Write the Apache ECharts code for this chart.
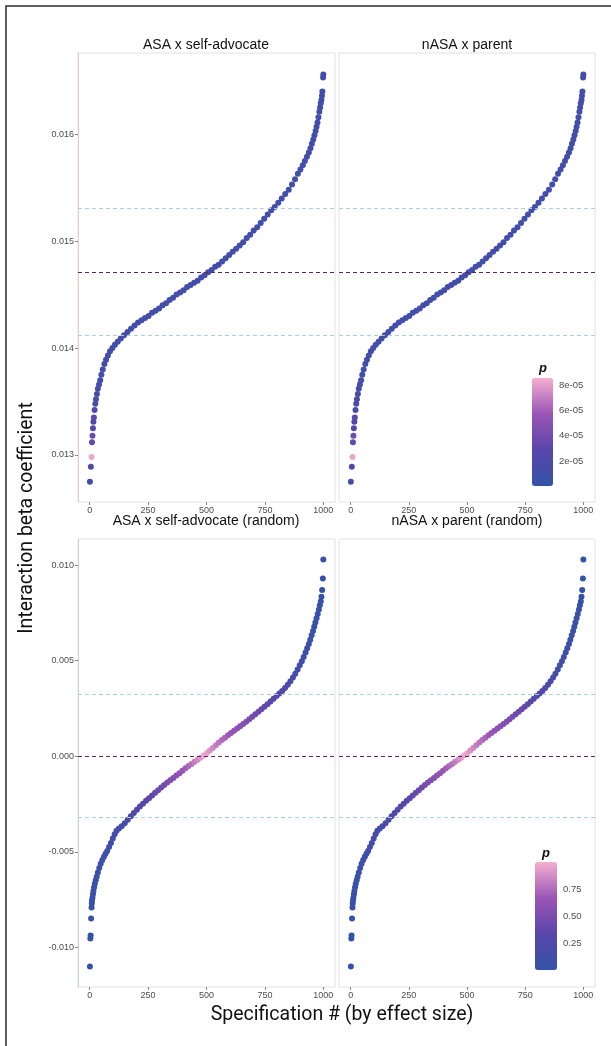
<!DOCTYPE html>
<html>
<head>
<meta charset="utf-8">
<script src="https://cdn.jsdelivr.net/npm/echarts@6/dist/echarts.min.js"></script>
<style>
  html, body { margin: 0; padding: 0; background: #fff; }
  #main { width: 611px; height: 1046px; }
</style>
</head>
<body>
<div id="main"></div>
<script>
// top row: specification rank, interaction beta, p
var topRank = [1, 5, 8, 10, 12, 14, 16, 18, 21, 24, 27, 31, 35, 40, 45, 50, 56, 63, 70, 78, 87, 97, 108, 120, 133, 147, 162, 177, 192, 207, 222, 237, 252, 267, 282, 297, 312, 327, 342, 357, 372, 387, 402, 417, 432, 447, 462, 477, 492, 507, 522, 537, 552, 567, 582, 597, 612, 627, 642, 657, 672, 687, 702, 717, 732, 747, 762, 777, 792, 807, 822, 837, 852, 866, 879, 891, 902, 912, 921, 930, 938, 945, 951, 957, 962, 967, 971, 975, 979, 983, 986, 989, 992, 994, 996, 999, 1000];
var topBeta = [0.01275, 0.01289, 0.01298, 0.01312, 0.01318, 0.01325, 0.01331, 0.01335, 0.01342, 0.01348, 0.01352, 0.01357, 0.01362, 0.01366, 0.01370, 0.01375, 0.01380, 0.01385, 0.01389, 0.01393, 0.01397, 0.01400, 0.01403, 0.01406, 0.01409, 0.01412, 0.01415, 0.01418, 0.01421, 0.01424, 0.01426, 0.01428, 0.01430, 0.01433, 0.01435, 0.01437, 0.01440, 0.01442, 0.01445, 0.01447, 0.01450, 0.01452, 0.01454, 0.01457, 0.01459, 0.01461, 0.01463, 0.01466, 0.01468, 0.01471, 0.01473, 0.01476, 0.01478, 0.01481, 0.01484, 0.01487, 0.01490, 0.01493, 0.01496, 0.01499, 0.01503, 0.01506, 0.01510, 0.01513, 0.01517, 0.01521, 0.01525, 0.01529, 0.01532, 0.01536, 0.01540, 0.01544, 0.01548, 0.01553, 0.01558, 0.01563, 0.01567, 0.01571, 0.01575, 0.01579, 0.01583, 0.01587, 0.01591, 0.01595, 0.01599, 0.01603, 0.01607, 0.01611, 0.01616, 0.01621, 0.01625, 0.01629, 0.01632, 0.01636, 0.01640, 0.01653, 0.01656];
var topP = [1.4e-5, 2.0e-5, 8.3e-5, 3.2e-5, 3.8e-5, 2.6e-5, 2.2e-5, 3.0e-5, 2.0e-5, 1.8e-5, 1.6e-5, 1.5e-5, 1.4e-5, 1.3e-5, 1.3e-5, 1.2e-5, 1.2e-5, 1.2e-5, 1.1e-5, 1.1e-5, 1.1e-5, 1.1e-5, 1.1e-5, 1.1e-5, 1.1e-5, 1.1e-5, 1.1e-5, 1.1e-5, 1.1e-5, 1.1e-5, 1.1e-5, 1.1e-5, 1.1e-5, 1.1e-5, 1.1e-5, 1.1e-5, 1.1e-5, 1.1e-5, 1.1e-5, 1.1e-5, 1.1e-5, 1.1e-5, 1.1e-5, 1.1e-5, 1.1e-5, 1.1e-5, 1.1e-5, 1.1e-5, 1.1e-5, 1.1e-5, 1.1e-5, 1.1e-5, 1.1e-5, 1.1e-5, 1.1e-5, 1.1e-5, 1.1e-5, 1.1e-5, 1.1e-5, 1.1e-5, 1.1e-5, 1.1e-5, 1.1e-5, 1.1e-5, 1.1e-5, 1.1e-5, 1.1e-5, 1.1e-5, 1.1e-5, 1.1e-5, 1.1e-5, 1.1e-5, 1.1e-5, 1.1e-5, 1.1e-5, 1.1e-5, 1.1e-5, 1.1e-5, 1.1e-5, 1.1e-5, 1.1e-5, 1.1e-5, 1.1e-5, 1.1e-5, 1.1e-5, 1.1e-5, 1.1e-5, 1.1e-5, 1.1e-5, 1.1e-5, 1.1e-5, 1.1e-5, 1.1e-5, 1.1e-5, 1.1e-5, 1.1e-5, 1.1e-5];
var topMid = 0.01471;
var topBand = [0.01412, 0.01531];
var topTicks = [0.013, 0.014, 0.015, 0.016];
var topPTicks = [2e-5, 4e-5, 6e-5, 8e-5];

// bottom row (random permutations)
var botRank = [1, 3, 4, 6, 8, 9, 10, 12, 14, 16, 19, 22, 26, 30, 35, 41, 47, 54, 61, 68, 75, 83, 91, 99, 107, 115, 125, 137, 150, 163, 176, 189, 202, 215, 228, 241, 254, 267, 280, 293, 306, 319, 332, 345, 358, 371, 384, 397, 410, 423, 436, 449, 462, 475, 488, 501, 514, 527, 540, 553, 566, 579, 592, 605, 618, 631, 644, 657, 670, 683, 696, 709, 722, 735, 748, 761, 774, 787, 800, 812, 824, 836, 848, 859, 870, 880, 890, 899, 908, 916, 924, 931, 938, 944, 950, 956, 961, 966, 971, 976, 981, 985, 989, 992, 995, 998, 1000];
var botBeta = [-0.01100, -0.00953, -0.00937, -0.00848, -0.00791, -0.00770, -0.00754, -0.00740, -0.00722, -0.00705, -0.00685, -0.00667, -0.00648, -0.00630, -0.00608, -0.00585, -0.00562, -0.00543, -0.00525, -0.00510, -0.00495, -0.00475, -0.00453, -0.00430, -0.00408, -0.00390, -0.00378, -0.00366, -0.00350, -0.00332, -0.00313, -0.00296, -0.00279, -0.00263, -0.00248, -0.00233, -0.00219, -0.00205, -0.00191, -0.00177, -0.00163, -0.00150, -0.00137, -0.00125, -0.00113, -0.00100, -0.00088, -0.00076, -0.00063, -0.00051, -0.00040, -0.00029, -0.00018, -0.00007, 0.00004, 0.00016, 0.00030, 0.00044, 0.00058, 0.00072, 0.00085, 0.00097, 0.00110, 0.00122, 0.00134, 0.00145, 0.00157, 0.00169, 0.00181, 0.00194, 0.00207, 0.00220, 0.00233, 0.00246, 0.00259, 0.00273, 0.00287, 0.00301, 0.00315, 0.00328, 0.00342, 0.00358, 0.00375, 0.00393, 0.00412, 0.00432, 0.00454, 0.00476, 0.00498, 0.00520, 0.00543, 0.00565, 0.00588, 0.00610, 0.00633, 0.00656, 0.00678, 0.00700, 0.00722, 0.00745, 0.00768, 0.00790, 0.00810, 0.00835, 0.00870, 0.00930, 0.01030];
var botP = [0.01, 0.02, 0.02, 0.03, 0.04, 0.04, 0.04, 0.05, 0.05, 0.05, 0.06, 0.06, 0.06, 0.07, 0.07, 0.08, 0.08, 0.09, 0.10, 0.10, 0.11, 0.12, 0.12, 0.13, 0.14, 0.15, 0.16, 0.17, 0.19, 0.21, 0.23, 0.25, 0.27, 0.29, 0.31, 0.33, 0.35, 0.38, 0.40, 0.43, 0.45, 0.48, 0.50, 0.53, 0.56, 0.59, 0.62, 0.66, 0.69, 0.73, 0.77, 0.81, 0.86, 0.92, 0.97, 0.95, 0.90, 0.86, 0.82, 0.79, 0.75, 0.72, 0.69, 0.66, 0.63, 0.60, 0.58, 0.55, 0.53, 0.50, 0.48, 0.45, 0.43, 0.41, 0.38, 0.36, 0.34, 0.32, 0.30, 0.28, 0.26, 0.24, 0.22, 0.20, 0.18, 0.16, 0.14, 0.13, 0.11, 0.10, 0.09, 0.08, 0.07, 0.06, 0.05, 0.05, 0.04, 0.04, 0.03, 0.03, 0.03, 0.02, 0.02, 0.02, 0.01, 0.01, 0.01];
var botMid = 0;
var botBand = [-0.0032, 0.00325];
var botTicks = [-0.010, -0.005, 0.000, 0.005, 0.010];
var botPTicks = [0.25, 0.50, 0.75];

var xTicks = [0, 250, 500, 750, 1000];
var titles = ['ASA x self-advocate', 'nASA x parent', 'ASA x self-advocate (random)', 'nASA x parent (random)'];

var pColors = ['#3353a8', '#5a46aa', '#9a55b6', '#f5afd0'];
var tickFont = { color: '#4d4d4d', fontSize: 9, fontFamily: 'Liberation Sans' };

function pts(r, b, p) {
    return r.map(function (v, i) { return [v, b[i], p[i]]; });
}
var topData = pts(topRank, topBeta, topP);
var botData = pts(botRank, botBeta, botP);

var myChart = echarts.init(document.getElementById('main'));

var panels = [
    { left: 78, top: 53, width: 257, height: 449 },
    { left: 339, top: 53, width: 256, height: 449 },
    { left: 78, top: 539, width: 257, height: 448 },
    { left: 339, top: 539, width: 256, height: 448 }
];

var grids = panels.map(function (p) {
    return { left: p.left, top: p.top, width: p.width, height: p.height, show: true, borderColor: '#e2e2e2', borderWidth: 1, backgroundColor: '#fff' };
});
// colour bar axes
grids.push({ left: 532, top: 378, width: 21, height: 108 });
grids.push({ left: 535, top: 862, width: 22, height: 108 });

var xAxes = panels.map(function (p, i) {
    return {
        type: 'value', gridIndex: i, min: -50, max: 1050,
        splitLine: { show: false },
        axisLine: { show: false, onZero: false },
        axisTick: { show: true, length: 3, lineStyle: { color: '#888' }, customValues: xTicks },
        axisLabel: Object.assign({ margin: 4, customValues: xTicks, formatter: function (v) { return String(v); } }, tickFont)
    };
});
xAxes.push({ type: 'value', gridIndex: 4, min: 0, max: 1, show: false });
xAxes.push({ type: 'value', gridIndex: 5, min: 0, max: 1, show: false });

function yAxis(i, min, max, ticks, showLab, lineColor) {
    return {
        type: 'value', gridIndex: i, min: min, max: max,
        splitLine: { show: false },
        axisLine: { show: !!lineColor, onZero: false, lineStyle: { color: lineColor || '#ddd', width: 1 } },
        axisTick: { show: showLab, length: 3, lineStyle: { color: '#888' }, customValues: ticks },
        axisLabel: Object.assign({ show: showLab, margin: 4, customValues: ticks, formatter: function (v) { return v.toFixed(3); } }, tickFont)
    };
}
var yAxes = [
    yAxis(0, 0.01256, 0.01676, topTicks, true, '#f1c9c2'),
    yAxis(1, 0.01256, 0.01676, topTicks, false, null),
    yAxis(2, -0.01207, 0.01137, botTicks, true, '#bcd8ea'),
    yAxis(3, -0.01207, 0.01137, botTicks, false, null)
];
yAxes.push({
    type: 'value', gridIndex: 4, min: 0, max: 8.6e-5, position: 'right',
    splitLine: { show: false }, axisLine: { show: false },
    axisTick: { show: true, inside: true, length: 4, lineStyle: { color: 'rgba(255,255,255,0.7)' }, customValues: topPTicks },
    axisLabel: Object.assign({ margin: 6, customValues: topPTicks, formatter: function (v) {
        return v.toExponential(0).replace('e-', 'e-0');
    } }, tickFont, { fontSize: 9.5 })
});
yAxes.push({
    type: 'value', gridIndex: 5, min: 0, max: 1.0, position: 'right',
    splitLine: { show: false }, axisLine: { show: false },
    axisTick: { show: true, inside: true, length: 4, lineStyle: { color: 'rgba(255,255,255,0.7)' }, customValues: botPTicks },
    axisLabel: Object.assign({ margin: 6, customValues: botPTicks, formatter: function (v) { return v.toFixed(2); } }, tickFont, { fontSize: 9.5 })
});

function refLines(mid, band) {
    return {
        silent: true, symbol: 'none', precision: 8,
        label: { show: false },
        data: [
            { yAxis: band[0], lineStyle: { color: '#a9cfe2', type: [4, 3], width: 1 } },
            { yAxis: band[1], lineStyle: { color: '#a9cfe2', type: [4, 3], width: 1 } },
            { yAxis: mid, lineStyle: { color: '#562a5c', type: [4, 3], width: 1.2 } }
        ]
    };
}

var series = [0, 1, 2, 3].map(function (i) {
    var top = i < 2;
    return {
        type: 'scatter', xAxisIndex: i, yAxisIndex: i, z: 3,
        symbolSize: 6,
        itemStyle: { opacity: 1 },
        data: top ? topData : botData
    };
});
series.push({ type: 'scatter', xAxisIndex: 4, yAxisIndex: 4, data: [] });
series.push({ type: 'scatter', xAxisIndex: 5, yAxisIndex: 5, data: [] });
// reference lines, kept outside the visualMap
[0, 1, 2, 3].forEach(function (i) {
    var top = i < 2;
    series.push({
        type: 'line', xAxisIndex: i, yAxisIndex: i, z: 1, data: [],
        markLine: top ? refLines(topMid, topBand) : refLines(botMid, botBand)
    });
});

var txt = function (s, x, y, font, extra) {
    return Object.assign({
        type: 'text', x: x, y: y, silent: true, z: 10,
        style: { text: s, font: font, fill: '#111', textAlign: 'center', textVerticalAlign: 'middle' }
    }, extra || {});
};

option = {
    backgroundColor: '#fff',
    animation: false,
    grid: grids,
    xAxis: xAxes,
    yAxis: yAxes,
    visualMap: [{
        type: 'continuous', seriesIndex: [0, 1], dimension: 2,
        min: 0, max: 8.6e-5, calculable: false, padding: 0,
        left: 532, top: 378, itemWidth: 21, itemHeight: 108,
        inRange: { color: pColors }, textStyle: { color: 'transparent' }
    }, {
        type: 'continuous', seriesIndex: [2, 3], dimension: 2,
        min: 0, max: 1.0, calculable: false, padding: 0,
        left: 535, top: 862, itemWidth: 22, itemHeight: 108,
        inRange: { color: pColors }, textStyle: { color: 'transparent' }
    }],
    graphic: [
        { type: 'rect', silent: true, z: 20, shape: { x: 6, y: 6, width: 700, height: 1100 }, style: { fill: 'none', stroke: '#2a2a2a', lineWidth: 1.5 } },
        txt(titles[0], 206, 45, '14px "Liberation Sans"'),
        txt(titles[1], 467, 45, '14px "Liberation Sans"'),
        txt(titles[2], 206, 521, '14px "Liberation Sans"'),
        txt(titles[3], 467, 521, '14px "Liberation Sans"'),
        txt('p', 543, 368, 'italic bold 13px "Liberation Sans"'),
        txt('p', 546, 853, 'italic bold 13px "Liberation Sans"'),
        txt('Interaction beta coefficient', 27, 518, '19.5px Roboto', { rotation: Math.PI / 2 }),
        txt('Specification # (by effect size)', 342, 1015, '19.5px Roboto')
    ],
    series: series
};
myChart.setOption(option);
</script>
</body>
</html>
